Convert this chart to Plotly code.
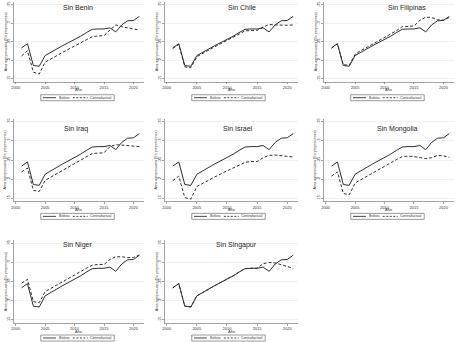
import plotly.graph_objects as go

# ---------------- data ----------------
years = list(range(2001, 2022))

bolivia = [0.234, 0.245, 0.186, 0.184, 0.213, 0.223, 0.231, 0.240, 0.248, 0.257,
           0.265, 0.275, 0.284, 0.285, 0.285, 0.288, 0.277, 0.296, 0.307, 0.308, 0.319]

panel_titles = ["Sin Benin", "Sin Chile", "Sin Filipinas", "Sin Iraq", "Sin Israel",
                "Sin Mongolia", "Sin Niger", "Sin Singapur"]

cf_benin = [0.212, 0.226, 0.168, 0.163, 0.195, 0.205, 0.213, 0.222, 0.230, 0.239,
            0.247, 0.256, 0.264, 0.266, 0.267, 0.282, 0.296, 0.291, 0.288, 0.286, 0.282]
cf_chile = [0.232, 0.243, 0.182, 0.180, 0.210, 0.220, 0.228, 0.237, 0.245, 0.254,
            0.262, 0.271, 0.280, 0.280, 0.281, 0.290, 0.297, 0.296, 0.295, 0.295, 0.296]
cf_filipinas = [0.233, 0.245, 0.188, 0.187, 0.216, 0.227, 0.235, 0.244, 0.252, 0.261,
                0.270, 0.280, 0.291, 0.292, 0.293, 0.308, 0.317, 0.316, 0.310, 0.309, 0.316]
cf_iraq = [0.219, 0.229, 0.171, 0.168, 0.197, 0.206, 0.215, 0.223, 0.232, 0.240,
           0.249, 0.258, 0.267, 0.268, 0.269, 0.285, 0.290, 0.289, 0.288, 0.287, 0.285]
cf_israel = [0.196, 0.208, 0.152, 0.148, 0.181, 0.190, 0.198, 0.206, 0.214, 0.222,
             0.230, 0.237, 0.244, 0.246, 0.246, 0.256, 0.262, 0.263, 0.261, 0.259, 0.258]
cf_mongolia = [0.208, 0.219, 0.163, 0.159, 0.190, 0.199, 0.208, 0.217, 0.225, 0.234,
               0.242, 0.251, 0.259, 0.260, 0.259, 0.257, 0.254, 0.256, 0.262, 0.261, 0.257]
cf_niger = [0.246, 0.256, 0.198, 0.195, 0.224, 0.233, 0.242, 0.250, 0.259, 0.267,
            0.276, 0.285, 0.293, 0.295, 0.295, 0.308, 0.315, 0.315, 0.313, 0.313, 0.320]
cf_singapur = [0.234, 0.245, 0.186, 0.184, 0.213, 0.223, 0.231, 0.240, 0.248, 0.257,
               0.265, 0.275, 0.284, 0.285, 0.285, 0.297, 0.300, 0.299, 0.295, 0.291, 0.285]

contrafactuales = [cf_benin, cf_chile, cf_filipinas, cf_iraq, cf_israel,
                   cf_mongolia, cf_niger, cf_singapur]

y_tick_vals = [0.15, 0.20, 0.25, 0.30, 0.35]
y_tick_text = [".15", ".2", ".25", ".3", ".35"]
x_tick_vals = [2000, 2005, 2010, 2015, 2020]
x_tick_text = ["2000", "2005", "2010", "2015", "2020"]

series_names = ["Bolivia", "Contrafactual"]
x_title = "Año"
y_title = "Área agropecuaria (En proporciones)"

# ---------------- layout ----------------
W, H = 456, 342
col_px = [(11, 142), (163, 297), (323, 454)]
row_px = [(1, 81), (118, 201), (240, 323)]
title_x_px = [75, 241, 407, 73, 237, 397, 75, 235]
title_y_off = [6, 10, 5]
legend_off = [13, 12, 12]

FONT = "Liberation Sans, Arial, sans-serif"
LINE = "#2e2e2e"
AXIS = "#666666"
DASH = "3px,2px"

fig = go.Figure()
shapes = []
annotations = []


def px(x):
    return x / W


def py(y):
    return 1 - y / H


for i, (title, cf) in enumerate(zip(panel_titles, contrafactuales)):
    r, c = divmod(i, 3)
    n = "" if i == 0 else str(i + 1)
    xa, ya = "x" + n, "y" + n
    fig.add_trace(go.Scatter(x=years, y=bolivia, mode="lines", name=series_names[0],
                             line=dict(color=LINE, width=1), xaxis=xa, yaxis=ya,
                             showlegend=False))
    fig.add_trace(go.Scatter(x=years, y=cf, mode="lines", name=series_names[1],
                             line=dict(color=LINE, width=1, dash=DASH), xaxis=xa, yaxis=ya,
                             showlegend=False))
    x0, x1 = col_px[c]
    y0, y1 = row_px[r]
    fig.update_layout(**{
        "xaxis" + n: dict(domain=[px(x0), px(x1)], anchor=ya, range=[1999.7, 2021.8],
                          tickvals=x_tick_vals, ticktext=x_tick_text, showgrid=False,
                          zeroline=False, showline=True, linecolor=AXIS, linewidth=0.6,
                          ticks="outside", ticklen=2, tickwidth=0.6, tickcolor=AXIS,
                          tickfont=dict(size=4, family=FONT, color="#333")),
        "yaxis" + n: dict(domain=[py(y1), py(y0)], anchor=xa, range=[0.142, 0.358],
                          tickvals=y_tick_vals, ticktext=y_tick_text, showgrid=True,
                          gridcolor="#e4e4e4", gridwidth=0.5, zeroline=False,
                          showline=True, linecolor=AXIS, linewidth=0.6,
                          ticks="outside", ticklen=2, tickwidth=0.6, tickcolor=AXIS,
                          tickangle=-90,
                          tickfont=dict(size=4, family=FONT, color="#333")),
    })
    # panel title
    annotations.append(dict(text=title, x=px(title_x_px[i]), y=py(y0 + title_y_off[r]),
                            xref="paper", yref="paper", showarrow=False,
                            xanchor="center", yanchor="middle",
                            font=dict(size=7, family=FONT, color="#222")))
    # axis titles
    annotations.append(dict(text=x_title, x=px((x0 + x1) / 2), y=py(y1 + 8.7),
                            xref="paper", yref="paper", showarrow=False,
                            xanchor="center", yanchor="middle", borderpad=0,
                            font=dict(size=3.8, family=FONT, color="#333")))
    annotations.append(dict(text=y_title, x=px(x0 - 8.5), y=py((y0 + y1) / 2),
                            xref="paper", yref="paper", showarrow=False, textangle=-90,
                            xanchor="center", yanchor="middle",
                            font=dict(size=3.6, family=FONT, color="#333")))
    # legend box
    bx0, bx1 = x0 + 27, x0 + 101
    by0 = y1 + legend_off[r]
    by1 = by0 + 6
    ym = (by0 + by1) / 2
    shapes.append(dict(type="rect", xref="paper", yref="paper",
                       x0=px(bx0), x1=px(bx1), y0=py(by1), y1=py(by0),
                       line=dict(color="#555", width=0.6), fillcolor="white"))
    shapes.append(dict(type="line", xref="paper", yref="paper",
                       x0=px(bx0 + 2.3), x1=px(bx0 + 15.3), y0=py(ym), y1=py(ym),
                       line=dict(color=LINE, width=0.9)))
    shapes.append(dict(type="line", xref="paper", yref="paper",
                       x0=px(bx0 + 32.3), x1=px(bx0 + 47.3), y0=py(ym), y1=py(ym),
                       line=dict(color=LINE, width=0.9, dash="2px,1.5px")))
    annotations.append(dict(text=series_names[0], x=px(bx0 + 17), y=py(ym),
                            xref="paper", yref="paper", showarrow=False,
                            xanchor="left", yanchor="middle", borderpad=0,
                            font=dict(size=3.6, family=FONT, color="#333")))
    annotations.append(dict(text=series_names[1], x=px(bx0 + 49), y=py(ym),
                            xref="paper", yref="paper", showarrow=False,
                            xanchor="left", yanchor="middle", borderpad=0,
                            font=dict(size=3.6, family=FONT, color="#333")))

fig.update_layout(width=W, height=H, autosize=False,
                  margin=dict(l=0, r=0, t=0, b=0),
                  paper_bgcolor="white", plot_bgcolor="white",
                  showlegend=False, shapes=shapes, annotations=annotations,
                  font=dict(family=FONT))

fig.write_html("out.html",
               config={"displayModeBar": False, "staticPlot": True},
               post_script="document.body.style.margin='0';document.body.style.overflow='hidden';")
